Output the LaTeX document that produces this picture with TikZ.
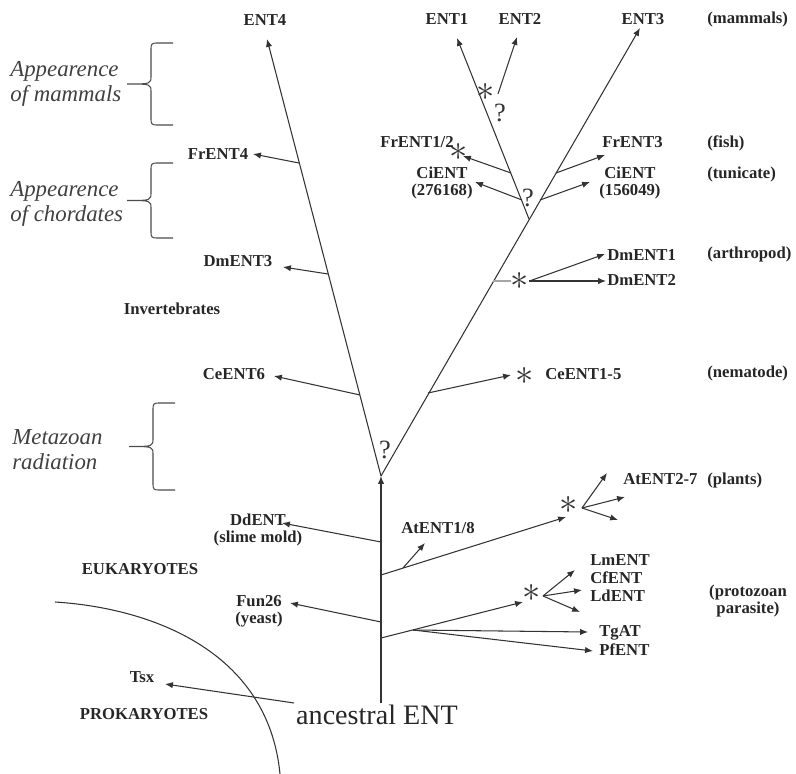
\documentclass[tikz,border=0pt]{standalone}
\usepackage{fontspec}
\setmainfont{Liberation Serif}
\usetikzlibrary{arrows.meta}
\tikzstyle{lbl} = [font=\fontsize{9.5}{9.6}\selectfont\bfseries, inner sep=0pt, anchor=mid, text=black!85]
\tikzstyle{taxon} = [lbl, anchor=mid west]
\tikzstyle{pair} = [lbl, align=center, anchor=center]
\tikzstyle{era} = [font=\fontsize{13}{14.2}\selectfont\itshape, align=left, inner sep=0pt, anchor=west, text=black!75]
\tikzstyle{twig} = [draw=black!80, line width=0.6pt]
\tikzstyle{arr} = [twig, -{Latex[length=4.5pt,width=3.6pt]}]
\tikzstyle{dup} = [font=\fontsize{22}{22}\selectfont, inner sep=0pt, text=black!80]
\tikzstyle{unsure} = [font=\fontsize{15}{15}\selectfont, inner sep=0pt, text=black!80]
\tikzstyle{bracket} = [draw=black!70, line width=0.6pt]
\newcommand{\erabrace}[3]{% x of the ends, top y, bottom y
    \draw[bracket] (#1,#2) -- ({#1-14},#2) .. controls ({#1-22},#2) .. ({#1-22},{#2+8})
        -- ({#1-22},{(#2+#3)/2-8}) .. controls ({#1-22},{(#2+#3)/2}) .. ({#1-46},{(#2+#3)/2})
        .. controls ({#1-22},{(#2+#3)/2}) .. ({#1-22},{(#2+#3)/2+8})
        -- ({#1-22},{#3-8}) .. controls ({#1-22},#3) .. ({#1-14},#3) -- (#1,#3);}

\begin{document}
\begin{tikzpicture}[x=0.02cm, y=-0.02cm]
    \useasboundingbox (0,0) rectangle (796,774);

    \node[font=\fontsize{16}{16}\selectfont, inner sep=1pt, text=black!85] (anc) at (377,715) {ancestral ENT};
    \coordinate (fork) at (381,476);
    \coordinate (tip-ent4) at (267,39);
    \coordinate (tip-ent3) at (640,28);
    \draw[arr] (anc.north -| fork) -- (fork);
    \draw[arr] (fork) -- (tip-ent4);
    \draw[arr] (fork) -- (tip-ent3);
    \node[unsure] (q-fork) at (385,450) {?};

    \node[lbl] (ent4) at (265,21) {ENT4};
    \node[lbl] (ent1) at (447,20) {ENT1};
    \node[lbl] (ent2) at (520,20) {ENT2};
    \node[lbl] (ent3) at (643,20) {ENT3};
    \node[taxon] (mammals) at (707,19) {(mammals)};

    % left branch
    \coordinate (l-fr) at (299,163);
    \coordinate (l-dm) at (328,274);
    \coordinate (l-ce) at (360,395);
    \coordinate (tip-fr4) at (253,154);
    \coordinate (tip-dm3) at (283,267);
    \coordinate (tip-ce6) at (274,376);
    \draw[arr] (l-fr) -- (tip-fr4);
    \draw[arr] (l-dm) -- (tip-dm3);
    \draw[arr] (l-ce) -- (tip-ce6);
    \node[lbl] (frent4) at (218,155) {FrENT4};
    \node[lbl] (dment3) at (238,262) {DmENT3};
    \node[lbl] (invert) at (172,310) {Invertebrates};
    \node[lbl] (ceent6) at (234,375) {CeENT6};

    % right branch
    \coordinate (r-mam) at (529,219);
    \coordinate (r-fr) at (556,173);
    \coordinate (r-ci) at (540,200);
    \coordinate (r-dm) at (493,281);
    \coordinate (r-ce) at (428,393);
    \coordinate (tip-ent1) at (457,38);
    \coordinate (tip-fr3) at (605,155);
    \coordinate (tip-ci2) at (590,182);
    \coordinate (tip-ce15) at (511,375);
    \draw[arr] (r-mam) -- (tip-ent1);
    \draw[arr] (r-fr) -- (tip-fr3);
    \draw[arr] (r-ci) -- (tip-ci2);
    \draw[arr] (r-ce) -- (tip-ce15);
    \node[unsure] (q-mam) at (528,198) {?};

    \coordinate (e-ent2) at (498,94);
    \coordinate (e-fr) at (511,173);
    \coordinate (e-ci) at (522,200);
    \coordinate (tip-ent2) at (517,37);
    \coordinate (tip-fr12) at (463,156);
    \coordinate (tip-ci1) at (475,182);
    \draw[arr] (e-ent2) -- (tip-ent2);
    \draw[arr] (e-fr) -- (tip-fr12);
    \draw[arr] (e-ci) -- (tip-ci1);
    \node[dup] (st-ent12) at (486,92) {$\ast$};
    \node[unsure] (q-ent2) at (500,113) {?};
    \node[dup] (st-fr) at (459,152) {$\ast$};

    \node[lbl] (frent12) at (417,143) {FrENT1/2};
    \node[pair] (ci1) at (442,183) {CiENT\\(276168)};
    \node[taxon] (frent3) at (602,143) {FrENT3};
    \node[pair, anchor=west] (ci2) at (599,183) {CiENT\\(156049)};
    \node[taxon] (fish) at (707,143) {(fish)};
    \node[taxon] (tunicate) at (707,174) {(tunicate)};

    \node[dup] (st-dm) at (520,281) {$\ast$};
    \coordinate (tip-dm1) at (605,254);
    \coordinate (tip-dm2) at (606,281);
    \draw[draw=black!35, line width=0.8pt] (r-dm) -- (st-dm.west);
    \draw[arr] (st-dm.east) -- (tip-dm1);
    \draw[arr] (st-dm.east) -- (tip-dm2);
    \node[taxon] (dment1) at (607,256) {DmENT1};
    \node[taxon] (dment2) at (607,281) {DmENT2};
    \node[taxon] (arthropod) at (707,254) {(arthropod)};

    \node[dup] (st-ce) at (525,376) {$\ast$};
    \node[taxon] (ceent15) at (545,375) {CeENT1-5};
    \node[taxon] (nematode) at (707,373) {(nematode)};

    % trunk
    \coordinate (t-dd) at (381,542);
    \coordinate (t-at) at (381,575);
    \coordinate (t-fun) at (381,622);
    \coordinate (t-pro) at (381,638);
    \coordinate (tip-dd) at (282,523);
    \coordinate (tip-at) at (566,517);
    \coordinate (tip-fun) at (290,603);
    \coordinate (tip-pro) at (523,602);
    \draw[arr] (t-dd) -- (tip-dd);
    \draw[arr] (t-at) -- (tip-at);
    \draw[arr] (t-fun) -- (tip-fun);
    \draw[arr] (t-pro) -- (tip-pro);
    \node[pair] (ddent) at (258,530) {DdENT\\(slime mold)};
    \node[pair] (fun26) at (259,611) {Fun26\\(yeast)};

    \coordinate (a-18) at (403,568);
    \coordinate (tip-at18) at (425,543);
    \draw[arr] (a-18) -- (tip-at18);
    \node[lbl] (atent18) at (438,529) {AtENT1/8};

    \node[dup] (st-at) at (569,505) {$\ast$};
    \coordinate (a-fan) at (582,508);
    \foreach \tip in {(607,473), (625,497), (618,520)}
        \draw[arr] (a-fan) -- \tip;
    \node[taxon] (atent27) at (623,480) {AtENT2-7};
    \node[taxon] (plants) at (707,480) {(plants)};

    \node[dup] (st-pro) at (532,593) {$\ast$};
    \coordinate (p-fan) at (543,596);
    \foreach \tip in {(575,570), (582,590), (580,612)}
        \draw[arr] (p-fan) -- \tip;
    \node[taxon] (lment) at (590,561) {LmENT};
    \node[taxon] (cfent) at (590,579) {CfENT};
    \node[taxon] (ldent) at (590,597) {LdENT};
    \node[pair] (protozoan) at (748,601) {(protozoan\\parasite)};

    \coordinate (p-tg) at (413,630);
    \coordinate (tip-tg) at (588,632);
    \coordinate (tip-pf) at (593,651);
    \draw[arr] (p-tg) -- (tip-tg);
    \draw[arr] (p-tg) -- (tip-pf);
    \node[taxon] (tgat) at (599,632) {TgAT};
    \node[taxon] (pfent) at (599,651) {PfENT};

    % prokaryotes
    \draw[twig] (55,602) .. controls (150,608) and (268,650) .. (280,774);
    \coordinate (tip-tsx) at (165,684);
    \draw[arr] (anc.north west) -- (tip-tsx);
    \node[lbl] (tsx) at (142,678) {Tsx};
    \node[lbl] (euk) at (140,570) {EUKARYOTES};
    \node[lbl] (prok) at (144,715) {PROKARYOTES};

    % eras
    \node[era] (era-mam) at (10,84) {Appearence\\of mammals};
    \node[era] (era-chord) at (10,204) {Appearence\\of chordates};
    \node[era] (era-meta) at (12,450) {Metazoan\\radiation};
    \erabrace{173}{43}{125}
    \erabrace{173}{163}{238}
    \erabrace{175}{403}{490}
\end{tikzpicture}
\end{document}
